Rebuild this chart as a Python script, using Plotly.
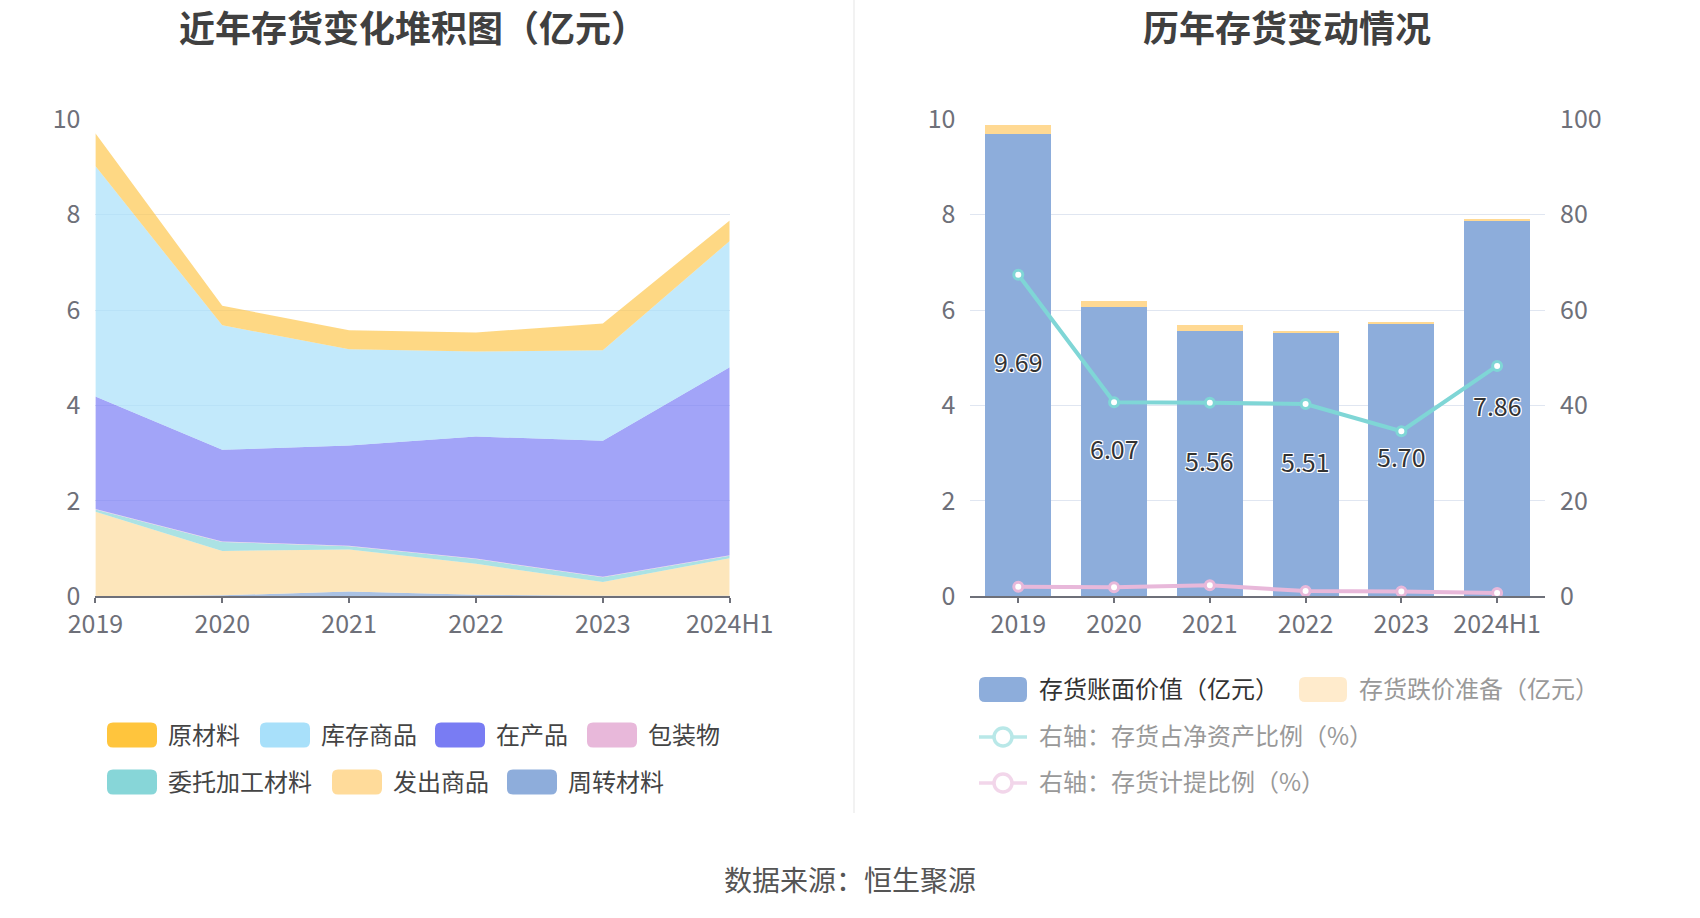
import plotly.graph_objects as go

W, H = 1700, 918

# ---------------- data ----------------
years = ["2019", "2020", "2021", "2022", "2023", "2024H1"]

raw_materials = [0.69, 0.41, 0.40, 0.40, 0.56, 0.43]      # 原材料
finished_goods = [4.83, 2.61, 2.02, 1.78, 1.90, 2.65]     # 库存商品
work_in_progress = [2.36, 1.92, 2.10, 2.56, 2.85, 3.94]   # 在产品
packaging = [0.01, 0.01, 0.01, 0.01, 0.01, 0.01]          # 包装物
consigned = [0.05, 0.19, 0.07, 0.10, 0.10, 0.05]          # 委托加工材料
goods_shipped = [1.77, 0.93, 0.88, 0.65, 0.29, 0.79]      # 发出商品
turnover_materials = [0.00, 0.02, 0.10, 0.03, 0.01, 0.01] # 周转材料

book_value = [9.69, 6.07, 5.56, 5.51, 5.70, 7.86]         # 存货账面价值
provision = [0.20, 0.12, 0.13, 0.06, 0.06, 0.06]          # 存货跌价准备
ratio_net_assets = [67.4, 40.7, 40.6, 40.3, 34.6, 48.3]   # 存货占净资产比例
ratio_provision = [2.0, 1.9, 2.3, 1.1, 1.0, 0.7]          # 存货计提比例

FONT = "Noto Sans CJK SC, Noto Sans, sans-serif"
WHITE_OUTLINE = "-1px -1px 0 #fff, 1px -1px 0 #fff, -1px 1px 0 #fff, 1px 1px 0 #fff, 0 0 2px #fff"


def px(x):
    return x / W


def py(y):
    return 1 - y / H


fig = go.Figure()

# ---------------- left: stacked area ----------------
area_series = [
    ("周转材料", turnover_materials, "rgba(142,173,219,0.75)"),
    ("发出商品", goods_shipped, "rgba(253,224,170,0.8)"),
    ("委托加工材料", consigned, "rgba(135,214,216,0.7)"),
    ("包装物", packaging, "rgba(232,184,218,0.7)"),
    ("在产品", work_in_progress, "rgba(123,126,245,0.7)"),
    ("库存商品", finished_goods, "rgba(168,224,250,0.7)"),
    ("原材料", raw_materials, "rgba(253,200,80,0.7)"),
]
for name, vals, col in area_series:
    fig.add_trace(go.Scatter(
        x=years, y=vals, name=name, stackgroup="one", mode="lines",
        line=dict(width=0, color=col), fillcolor=col,
        xaxis="x", yaxis="y", showlegend=False, hoverinfo="x+y+name"))

# ---------------- right: bars + lines ----------------
fig.add_trace(go.Bar(
    x=years, y=book_value, name="存货账面价值（亿元）", marker=dict(color="#8DADDB", line=dict(width=0)),
    xaxis="x2", yaxis="y2", showlegend=False))
fig.add_trace(go.Bar(
    x=years, y=provision, name="存货跌价准备（亿元）", marker=dict(color="#FFD993", line=dict(width=0)),
    xaxis="x2", yaxis="y2", showlegend=False))
fig.add_trace(go.Scatter(
    x=years, y=ratio_net_assets, name="右轴：存货占净资产比例（%）", mode="lines+markers",
    line=dict(color="#7FD6D6", width=4),
    marker=dict(symbol="circle", size=9, color="#ffffff", line=dict(color="#7FD6D6", width=3)),
    xaxis="x2", yaxis="y3", showlegend=False))
fig.add_trace(go.Scatter(
    x=years, y=ratio_provision, name="右轴：存货计提比例（%）", mode="lines+markers",
    line=dict(color="#E8B8DA", width=4),
    marker=dict(symbol="circle", size=9, color="#ffffff", line=dict(color="#E8B8DA", width=3)),
    xaxis="x2", yaxis="y3", showlegend=False))

grid = "#E0E6F1"
axis_col = "#6E7079"
tickfont = dict(size=25, color="#6E7079", family=FONT)

y_top, y_bot = 119.3, 596.3
fig.update_layout(
    width=W, height=H,
    margin=dict(l=0, r=0, t=0, b=0, autoexpand=False),
    paper_bgcolor="white", plot_bgcolor="rgba(0,0,0,0)",
    font=dict(family=FONT),
    barmode="stack", bargap=0.31,
    showlegend=False,
    xaxis=dict(domain=[px(95.4), px(729.7)], type="category", range=[0, 5],
               showline=True, linecolor=axis_col, linewidth=1.5,
               ticks="outside", ticklen=5, tickcolor=axis_col, tickwidth=1.5,
               tickfont=tickfont, showgrid=False, anchor="y", fixedrange=True, automargin=False),
    yaxis=dict(domain=[py(y_bot), py(y_top)], range=[0, 10], dtick=2,
               showgrid=True, gridcolor=grid, gridwidth=1.3, zeroline=False,
               showline=False, ticks="", ticklabelstandoff=14,
               tickfont=tickfont, anchor="x", fixedrange=True, automargin=False),
    xaxis2=dict(domain=[px(970.4), px(1545)], type="category", range=[-0.5, 5.5],
                showline=True, linecolor=axis_col, linewidth=1.5,
                ticks="outside", ticklen=5, tickcolor=axis_col, tickwidth=1.5,
                tickfont=tickfont, showgrid=False, anchor="y2", fixedrange=True, automargin=False),
    yaxis2=dict(domain=[py(y_bot), py(y_top)], range=[0, 10], dtick=2,
                showgrid=True, gridcolor=grid, gridwidth=1.3, zeroline=False,
                showline=False, ticks="", ticklabelstandoff=14,
                tickfont=tickfont, anchor="x2", fixedrange=True, automargin=False),
    yaxis3=dict(range=[0, 100], dtick=20, overlaying="y2", side="right", anchor="x2",
                showgrid=False, zeroline=False, showline=False, ticks="",
                ticklabelstandoff=14, tickfont=tickfont, fixedrange=True, automargin=False),
)

shapes = []
annotations = []

# bar value labels (centre of each book-value bar); x given as category index
for i, v in enumerate(book_value):
    annotations.append(dict(text=f"{v:.2f}", x=i, y=v / 2, xref="x2", yref="y2",
                            xanchor="center", yanchor="middle", showarrow=False, yshift=4,
                            font=dict(size=25, color="#333333", family=FONT, shadow=WHITE_OUTLINE)))

# titles
annotations.append(dict(text="<b>近年存货变化堆积图（亿元）</b>", x=px(412.5), y=py(26), xref="paper", yref="paper",
                        xanchor="center", yanchor="middle", showarrow=False,
                        font=dict(size=36, color="#404040", family=FONT)))
annotations.append(dict(text="<b>历年存货变动情况</b>", x=px(1287), y=py(26), xref="paper", yref="paper",
                        xanchor="center", yanchor="middle", showarrow=False,
                        font=dict(size=36, color="#404040", family=FONT)))

# divider
shapes.append(dict(type="line", xref="paper", yref="paper", x0=px(854), x1=px(854), y0=py(0), y1=py(813),
                   line=dict(color="#EEEEEE", width=1.5)))

# source
annotations.append(dict(text="数据来源：恒生聚源", x=px(850), y=py(879), xref="paper", yref="paper",
                        xanchor="center", yanchor="middle", showarrow=False,
                        font=dict(size=28, color="#555555", family=FONT)))


def rrect(x0, y0, x1, y1, r, color):
    rx, ry = r / W, r / H
    X0, X1 = px(x0), px(x1)
    Y0, Y1 = py(y0), py(y1)  # Y0 top (bigger), Y1 bottom
    path = (f"M {X0+rx},{Y0} L {X1-rx},{Y0} Q {X1},{Y0} {X1},{Y0-ry} "
            f"L {X1},{Y1+ry} Q {X1},{Y1} {X1-rx},{Y1} L {X0+rx},{Y1} "
            f"Q {X0},{Y1} {X0},{Y1+ry} L {X0},{Y0-ry} Q {X0},{Y0} {X0+rx},{Y0} Z")
    return dict(type="path", path=path, xref="paper", yref="paper",
                fillcolor=color, line=dict(width=0), layer="above")


def legend_text(x, y, text, color="#444444", size=24):
    annotations.append(dict(text=text, x=px(x), y=py(y - 2), xref="paper", yref="paper",
                            xanchor="left", yanchor="middle", showarrow=False,
                            font=dict(size=size, color=color, family=FONT)))


# left legend
left_items = [
    (107, 735, "#FFC53D", "原材料"),
    (260, 735, "#A8E0FA", "库存商品"),
    (435, 735, "#797CF3", "在产品"),
    (587, 735, "#E8B8DA", "包装物"),
    (107, 782, "#87D6D8", "委托加工材料"),
    (332, 782, "#FFDB9A", "发出商品"),
    (507, 782, "#8EADDB", "周转材料"),
]
for x, y, col, txt in left_items:
    shapes.append(rrect(x, y - 12.5, x + 50, y + 12.5, 6, col))
    legend_text(x + 59, y, txt)

# right legend
shapes.append(rrect(979, 689.5 - 12.5, 1027, 689.5 + 12.5, 6, "#8DADDB"))
legend_text(1037, 689, "存货账面价值（亿元）", "#333333")
shapes.append(rrect(1299, 689.5 - 12.5, 1347, 689.5 + 12.5, 6, "#FFEBCC"))
legend_text(1357, 689, "存货跌价准备（亿元）", "#999999")

for yy, col in [(737, "#B9E8E8"), (783, "#F2D6EA")]:
    shapes.append(dict(type="line", xref="paper", yref="paper", x0=px(979), x1=px(1027), y0=py(yy), y1=py(yy),
                       line=dict(color=col, width=3.5)))
    shapes.append(dict(type="circle", xref="paper", yref="paper",
                       x0=px(1003 - 9), x1=px(1003 + 9), y0=py(yy + 9), y1=py(yy - 9),
                       fillcolor="white", line=dict(color=col, width=3.5)))
legend_text(1037, 736, "右轴：存货占净资产比例（%）", "#999999")
legend_text(1037, 782, "右轴：存货计提比例（%）", "#999999")

fig.update_layout(shapes=shapes, annotations=annotations)

fig.write_html("out.html", config={"displayModeBar": False},
               post_script="document.body.style.margin='0';")
